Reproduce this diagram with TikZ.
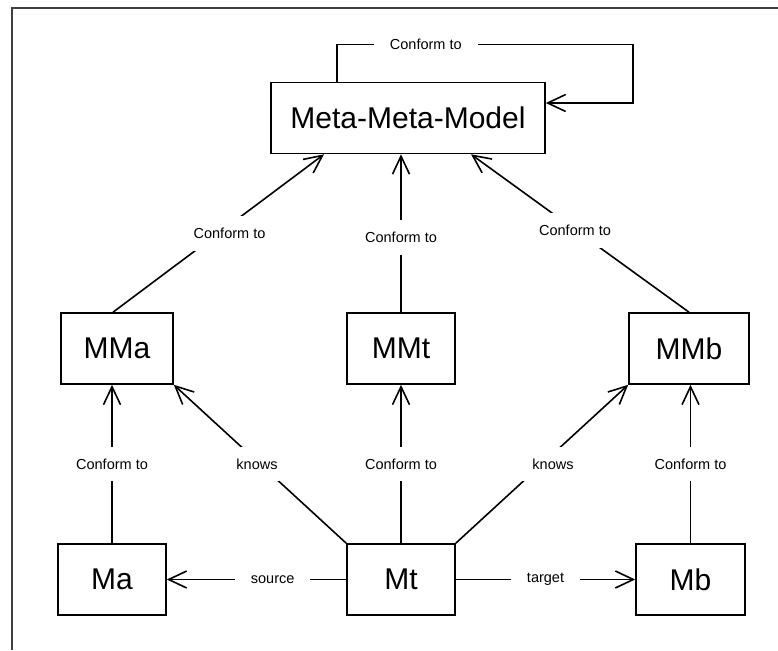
\documentclass[tikz,border=0pt]{standalone}
\usepackage{fontspec}
\setmainfont{Liberation Sans}
\usetikzlibrary{arrows.meta,calc}
\begin{document}
\begin{tikzpicture}[x=1pt,y=-1pt,
  box/.style={draw, line width=1.6pt, rectangle, inner sep=0pt,
    font=\fontsize{30}{34}\selectfont, minimum height=71pt},
  conn/.style={line width=1.6pt},
  arr/.style={conn, -{Straight Barb[length=18pt,width=17pt,line width=1.6pt]}},
  lbl/.style={fill=white, inner xsep=16pt, inner ysep=12pt,
    font=\fontsize{14.5}{17}\selectfont},
]
\useasboundingbox (0,0) rectangle (778,650);
% page frame
\draw[black!75, line width=1.5pt] (12,650) -- (12,8) -- (778,8);

% models
\node[box, minimum width=274pt] (MMM) at (408,118) {Meta-Meta-Model};
\node[box, minimum width=112pt] (MMa) at (117,348.5) {MMa};
\node[box, minimum width=108pt] (MMt) at (401,348.5) {MMt};
\node[box, minimum width=120pt] (MMb) at (689,348.5) {MMb};
\node[box, minimum width=108pt] (Ma)  at (112,579.5) {Ma};
\node[box, minimum width=108pt] (Mt)  at (401,579.5) {Mt};
\node[box, minimum width=109pt] (Mb)  at (690.5,579.5) {Mb};

% self conformance of the meta-meta-model
\draw[arr] ([xshift=-71pt]MMM.north) -- ++(0,-37)
  -- node[lbl,pos=0.3]{Conform to} ++(296,0)
  |- ([yshift=15pt]MMM.east);

% metamodels conform to the meta-meta-model
\draw[arr] ([xshift=-4pt]MMa.north) -- node[lbl,pos=0.5,xshift=11pt]{Conform to} ([xshift=-84pt]MMM.south);
\draw[arr] (MMt.north) -- node[lbl,pos=0.475]{Conform to} (MMt.north |- MMM.south);
\draw[arr] (MMb.north) -- node[lbl,pos=0.5,xshift=-5pt,yshift=3pt]{Conform to} ([xshift=63pt]MMM.south);

% models conform to their metamodels
\draw[arr] (Ma.north) -- node[lbl]{Conform to} (Ma.north |- MMa.south);
\draw[arr] (Mt.north) -- node[lbl]{Conform to} (MMt.south);
\draw[arr] (Mb.north) -- node[lbl]{Conform to} (Mb.north |- MMb.south);

% transformation model relations
\draw[arr] (Mt.north west) -- node[lbl,xshift=-3pt]{knows} (MMa.south east);
\draw[arr] (Mt.north east) -- node[lbl,xshift=11pt]{knows} (MMb.south west);
\draw[arr] (Mt.west) -- node[lbl,pos=0.41]{source} (Ma.east);
\draw[arr] (Mt.east) -- node[lbl]{target} (Mb.west);
\end{tikzpicture}
\end{document}
